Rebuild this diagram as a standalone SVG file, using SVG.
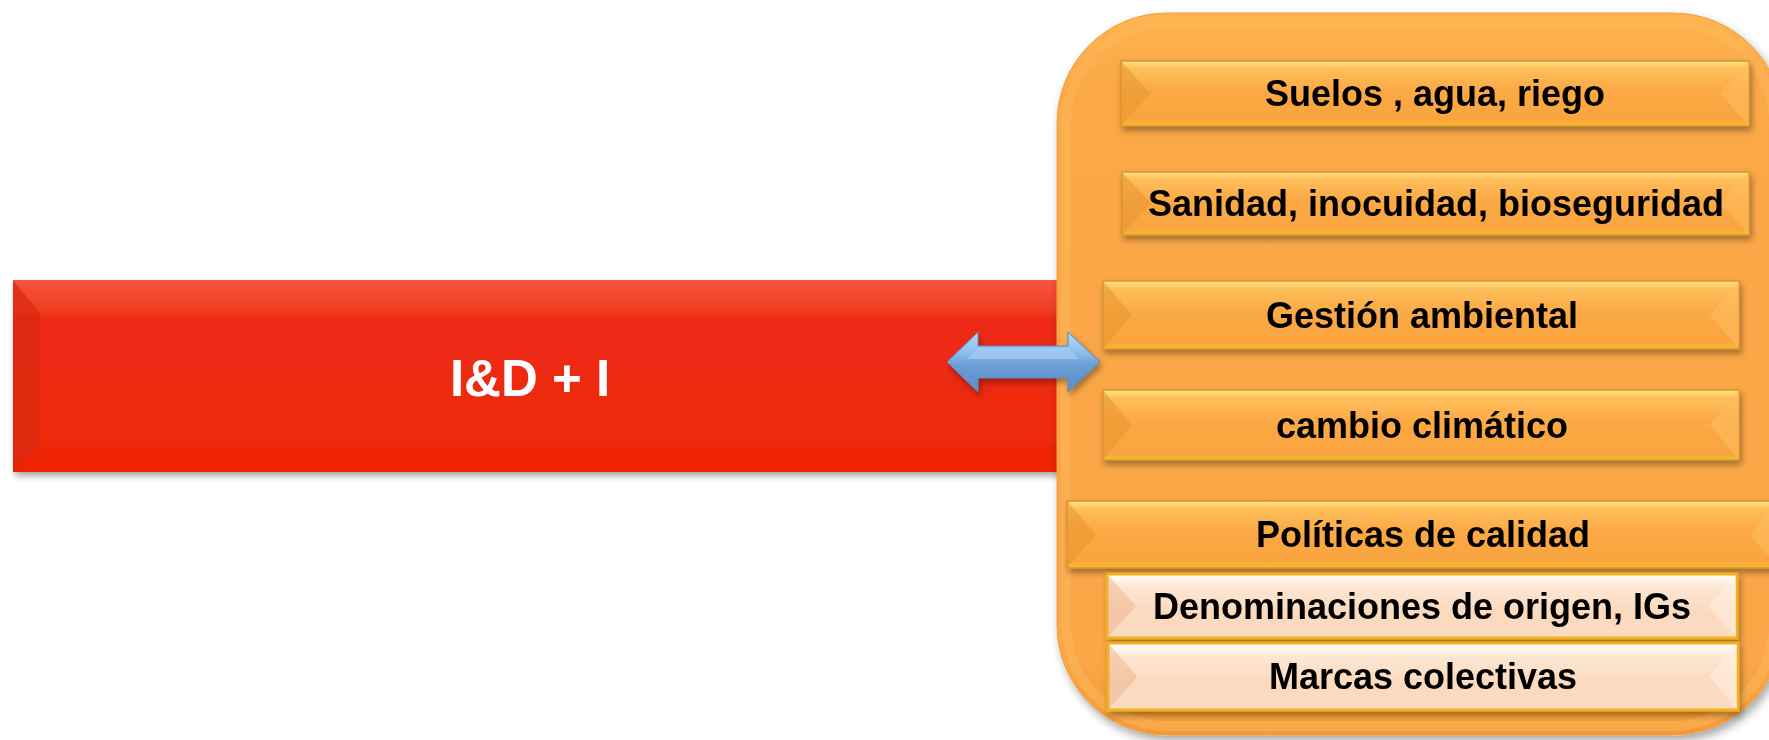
<svg xmlns="http://www.w3.org/2000/svg" width="1769" height="740" viewBox="0 0 1769 740">
<defs>
<style>
.lbl{font-family:"Liberation Sans",Arial,sans-serif;font-weight:bold;font-size:36px;fill:#000;text-anchor:middle}
.big{font-family:"Liberation Sans",Arial,sans-serif;font-weight:bold;font-size:51px;fill:#fff;text-anchor:middle}
.ob{fill:url(#gOrange);stroke:#D8952F;stroke-width:1.5}
.pb{fill:url(#gPeach);stroke:#F2B01E;stroke-width:3}
.lt{fill:#E8962F;opacity:0.55}
.rt{fill:#FFC060;opacity:0.5}
.lt2{fill:#E8B08A;opacity:0.45}
.rt2{fill:#FFF3E8;opacity:0.5}
</style>
<linearGradient id="gOrange" x1="0" y1="0" x2="0" y2="1">
<stop offset="0" stop-color="#FFE684"/>
<stop offset="0.12" stop-color="#FDBF5A"/>
<stop offset="0.45" stop-color="#FBA945"/>
<stop offset="0.9" stop-color="#F9A440"/>
<stop offset="1" stop-color="#F6BB2C"/>
</linearGradient>
<linearGradient id="gPeach" x1="0" y1="0" x2="0" y2="1">
<stop offset="0" stop-color="#FFFFFF"/>
<stop offset="0.2" stop-color="#FDE7D3"/>
<stop offset="0.6" stop-color="#FBD9BD"/>
<stop offset="1" stop-color="#FCDCC2"/>
</linearGradient>
<linearGradient id="gRed" x1="0" y1="0" x2="0" y2="1">
<stop offset="0" stop-color="#F6553F"/>
<stop offset="0.17" stop-color="#EF3A20"/>
<stop offset="0.2" stop-color="#EE2B13"/>
<stop offset="0.85" stop-color="#EE2A10"/>
<stop offset="1" stop-color="#EE2200"/>
</linearGradient>
<linearGradient id="gCont" x1="0" y1="0" x2="0" y2="1">
<stop offset="0" stop-color="#FDB450"/>
<stop offset="0.1" stop-color="#FBA847"/>
<stop offset="0.9" stop-color="#FBA646"/>
<stop offset="1" stop-color="#F39A35"/>
</linearGradient>
<linearGradient id="gBlue" x1="0" y1="0" x2="0" y2="1">
<stop offset="0" stop-color="#B5D8F7"/>
<stop offset="0.35" stop-color="#8DBDEB"/>
<stop offset="0.55" stop-color="#6B9DD6"/>
<stop offset="1" stop-color="#5B8DCB"/>
</linearGradient>
<filter id="sh" x="-5%" y="-10%" width="115%" height="130%">
<feDropShadow dx="2" dy="4" stdDeviation="3" flood-color="#000" flood-opacity="0.35"/>
</filter>
<filter id="shc" x="-5%" y="-5%" width="115%" height="115%">
<feDropShadow dx="3" dy="5" stdDeviation="5" flood-color="#000" flood-opacity="0.35"/>
</filter>
</defs>

<g id="node-ide">
<rect x="13" y="280" width="1060" height="192" fill="url(#gRed)" filter="url(#sh)"/>
<polygon points="13,280 40,313 40,445 13,472" fill="#D82A0E" opacity="0.7"/>
<polygon points="13,472 40,445 1073,445 1073,472" fill="#F02400" opacity="0.5"/>
<text class="big" x="530" y="396">I&amp;D + I</text>
</g>

<g id="node-container">
<rect x="1057" y="13" width="726" height="722" rx="110" ry="110" fill="url(#gCont)" stroke="#F0A040" stroke-width="1" filter="url(#shc)"/>
<rect x="1066" y="22" width="708" height="704" rx="102" ry="102" fill="none" stroke="#FDB85A" stroke-width="10" opacity="0.5"/>
</g>

<g id="connectors">
<path d="M947,362 L978,332 L978,346 L1068,346 L1068,332 L1100,362 L1068,392 L1068,378 L978,378 L978,392 Z" fill="url(#gBlue)" stroke="#5A88C4" stroke-width="1" filter="url(#sh)"/>
<polygon points="967,359 978,348 1068,348 1079,359" fill="#A9D1F5" opacity="0.6"/>
</g>

<g id="node-suelos" filter="url(#sh)">
<rect class="ob" x="1121" y="61" width="628" height="65"/>
<polygon class="lt" points="1121,61 1150,93.5 1121,126"/>
<polygon class="rt" points="1749,61 1720,93.5 1749,126"/>
<text class="lbl" x="1435" y="106">Suelos , agua, riego</text>
</g>

<g id="node-sanidad" filter="url(#sh)">
<rect class="ob" x="1122" y="172" width="627" height="63"/>
<polygon class="lt" points="1122,172 1151,203.5 1122,235"/>
<polygon class="rt" points="1749,172 1720,203.5 1749,235"/>
<text class="lbl" x="1436" y="216">Sanidad, inocuidad, bioseguridad</text>
</g>

<g id="node-gestion" filter="url(#sh)">
<rect class="ob" x="1103" y="281" width="636" height="68"/>
<polygon class="lt" points="1103,281 1132,315 1103,349"/>
<polygon class="rt" points="1739,281 1710,315 1739,349"/>
<text class="lbl" x="1422" y="328">Gestión ambiental</text>
</g>

<g id="node-cambio" filter="url(#sh)">
<rect class="ob" x="1103" y="390" width="636" height="70"/>
<polygon class="lt" points="1103,390 1132,425 1103,460"/>
<polygon class="rt" points="1739,390 1710,425 1739,460"/>
<text class="lbl" x="1422" y="438">cambio climático</text>
</g>

<g id="node-politicas" filter="url(#sh)">
<rect class="ob" x="1067" y="501" width="712" height="67"/>
<polygon class="lt" points="1067,501 1096,534.5 1067,568"/>
<polygon class="rt" points="1779,501 1750,534.5 1779,568"/>
<text class="lbl" x="1423" y="547">Políticas de calidad</text>
</g>

<g id="node-denominaciones" filter="url(#sh)">
<rect class="pb" x="1107" y="574" width="630" height="64"/>
<polygon class="lt2" points="1108,575 1136,606 1108,637"/>
<polygon class="rt2" points="1736,575 1708,606 1736,637"/>
<text class="lbl" x="1422" y="619">Denominaciones de origen, IGs</text>
</g>

<g id="node-marcas" filter="url(#sh)">
<rect class="pb" x="1108" y="643" width="630" height="67"/>
<polygon class="lt2" points="1109,644 1137,676.5 1109,709"/>
<polygon class="rt2" points="1737,644 1709,676.5 1737,709"/>
<text class="lbl" x="1423" y="689">Marcas colectivas</text>
</g>
</svg>
